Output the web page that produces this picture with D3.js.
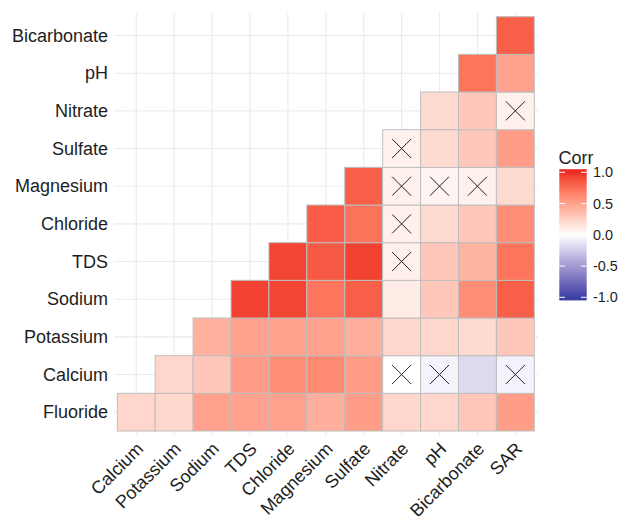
<!DOCTYPE html>
<html><head><meta charset="utf-8">
<script src="https://cdn.jsdelivr.net/npm/d3@7"></script>
<style>body{margin:0;background:#fff}svg{display:block}text{font-family:"Liberation Sans",Arial,sans-serif}</style>
</head><body><svg id="c" width="620" height="516"></svg>
<script>
const xVars = ["Calcium","Potassium","Sodium","TDS","Chloride","Magnesium","Sulfate","Nitrate","pH","Bicarbonate","SAR"];
const yVars = ["Fluoride","Calcium","Potassium","Sodium","TDS","Chloride","Magnesium","Sulfate","Nitrate","pH","Bicarbonate"];
// lower-triangle values: row yVars[i] has cells for xVars[i..10]
const rowFluoride    = [0.22,0.21,0.50,0.50,0.50,0.43,0.52,0.22,0.22,0.30,0.52];
const rowCalcium     = [0.22,0.30,0.52,0.60,0.62,0.52,0.00,-0.06,-0.18,-0.06];
const rowPotassium   = [0.42,0.50,0.50,0.50,0.43,0.22,0.22,0.20,0.30];
const rowSodium      = [0.93,0.92,0.72,0.82,0.10,0.30,0.60,0.82];
const rowTDS         = [0.92,0.84,0.93,0.08,0.30,0.40,0.72];
const rowChloride    = [0.83,0.73,0.08,0.20,0.30,0.60];
const rowMagnesium   = [0.82,0.07,0.06,0.07,0.20];
const rowSulfate     = [0.07,0.20,0.30,0.52];
const rowNitrate     = [0.20,0.30,0.08];
const rowPH          = [0.72,0.50];
const rowBicarbonate = [0.82];
const rows = [rowFluoride,rowCalcium,rowPotassium,rowSodium,rowTDS,rowChloride,rowMagnesium,rowSulfate,rowNitrate,rowPH,rowBicarbonate];
// non-significant pairs [row, column]
const insignificant = [["Calcium","Nitrate"],["Calcium","pH"],["Calcium","SAR"],["TDS","Nitrate"],["Chloride","Nitrate"],
  ["Magnesium","Nitrate"],["Magnesium","pH"],["Magnesium","Bicarbonate"],["Sulfate","Nitrate"],["Nitrate","SAR"]];
const legendTicks = [1.0,0.5,0.0,-0.5,-1.0];

const cells = [];
rows.forEach((r,i)=>r.forEach((v,k)=>cells.push({y:yVars[i], x:xVars[i+k], v})));
const insigSet = new Set(insignificant.map(d=>d[0]+"|"+d[1]));

const svg = d3.select("#c");
const x = d3.scaleBand().domain(xVars).range([117.3,534.3]);
const y = d3.scaleBand().domain(yVars.slice().reverse()).range([16.7,431]);
const color = d3.scaleLinear().domain([-1,0,1]).range(["#3C40A3","#ffffff","#EE2A24"]).interpolate(d3.interpolateLab);

// grid
const g = svg.append("g");
g.selectAll("line.v").data(xVars).join("line").attr("x1",d=>x(d)+x.bandwidth()/2).attr("x2",d=>x(d)+x.bandwidth()/2)
 .attr("y1",13).attr("y2",435).attr("stroke","#EBEBEB").attr("stroke-width",1.1);
g.selectAll("line.h").data(yVars).join("line").attr("y1",d=>y(d)+y.bandwidth()/2).attr("y2",d=>y(d)+y.bandwidth()/2)
 .attr("x1",114).attr("x2",538).attr("stroke","#EBEBEB").attr("stroke-width",1.1);

// cells
svg.append("g").selectAll("rect").data(cells).join("rect")
 .attr("x",d=>x(d.x)).attr("y",d=>y(d.y)).attr("width",x.bandwidth()).attr("height",y.bandwidth())
 .attr("fill",d=>color(d.v)).attr("stroke","#BEBEBE").attr("stroke-width",1);

// X marks
const s = 9.5;
const xm = svg.append("g").selectAll("g").data(cells.filter(d=>insigSet.has(d.y+"|"+d.x))).join("g")
 .attr("transform",d=>`translate(${x(d.x)+x.bandwidth()/2},${y(d.y)+y.bandwidth()/2})`);
xm.append("line").attr("x1",-s).attr("y1",-s).attr("x2",s).attr("y2",s).attr("stroke","#222").attr("stroke-width",1);
xm.append("line").attr("x1",-s).attr("y1",s).attr("x2",s).attr("y2",-s).attr("stroke","#222").attr("stroke-width",1);

// axes labels
svg.append("g").selectAll("text").data(yVars).join("text")
 .attr("x",108).attr("y",d=>y(d)+y.bandwidth()/2).attr("dy","0.35em").attr("text-anchor","end")
 .attr("font-size",18).attr("fill","#1e1e1e").text(d=>d);
svg.append("g").selectAll("text").data(xVars).join("text")
 .attr("transform",d=>`translate(${x(d)+x.bandwidth()/2+8},450) rotate(-45)`)
 .attr("text-anchor","end").attr("font-size",18).attr("fill","#1e1e1e").text(d=>d);

// legend
const ly = d3.scaleLinear().domain([1,-1]).range([172.3,297.3]);
const defs = svg.append("defs");
const grad = defs.append("linearGradient").attr("id","lg").attr("x1",0).attr("x2",0).attr("y1",0).attr("y2",1);
d3.range(0,41).forEach(i=>{const t=i/40; const v=1.05-2.1*t; grad.append("stop").attr("offset",t).attr("stop-color",color(Math.max(-1,Math.min(1,v))));});
svg.append("rect").attr("x",559.3).attr("y",ly(1.05)).attr("width",27.4).attr("height",ly(-1.05)-ly(1.05)).attr("fill","url(#lg)");
const lt = svg.append("g").selectAll("g").data(legendTicks).join("g");
lt.append("line").attr("x1",559.3).attr("x2",565).attr("y1",d=>ly(d)).attr("y2",d=>ly(d)).attr("stroke","#fff").attr("stroke-width",1);
lt.append("line").attr("x1",581).attr("x2",586.7).attr("y1",d=>ly(d)).attr("y2",d=>ly(d)).attr("stroke","#fff").attr("stroke-width",1);
lt.append("text").attr("x",593).attr("y",d=>ly(d)).attr("dy","0.35em").attr("font-size",14.4).attr("fill","#1e1e1e").text(d=>d.toFixed(1));
svg.append("text").attr("x",558.5).attr("y",164).attr("font-size",18).attr("fill","#1e1e1e").text("Corr");
</script></body></html>
